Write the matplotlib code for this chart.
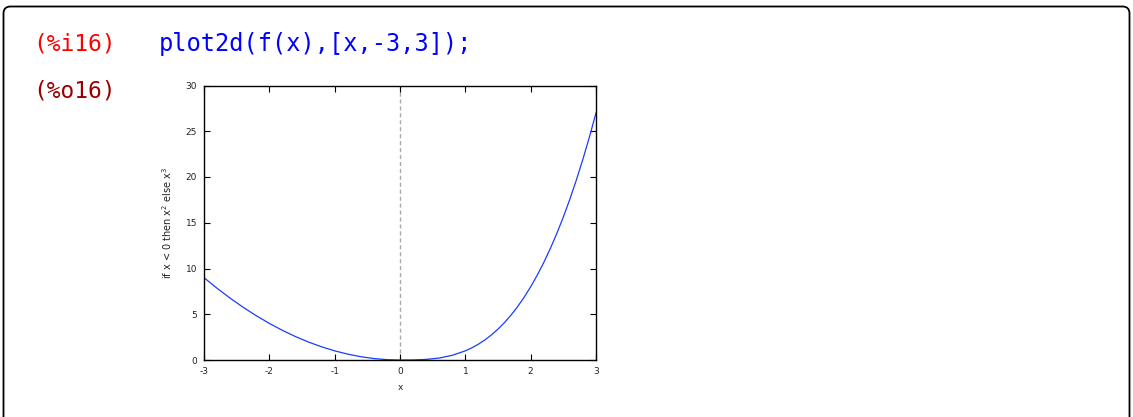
import matplotlib.pyplot as plt
from matplotlib.patches import FancyBboxPatch

plt.rcParams['axes.unicode_minus'] = False

x_vals = [-3.0, -2.8, -2.6, -2.4, -2.2, -2.0, -1.8, -1.6, -1.4, -1.2, -1.0,
          -0.8, -0.6, -0.4, -0.2, 0.0, 0.2, 0.4, 0.6, 0.8, 1.0,
          1.1, 1.2, 1.3, 1.4, 1.5, 1.6, 1.7, 1.8, 1.9, 2.0,
          2.1, 2.2, 2.3, 2.4, 2.5, 2.6, 2.7, 2.8, 2.9, 3.0]
y_vals = [9.0, 7.84, 6.76, 5.76, 4.84, 4.0, 3.24, 2.56, 1.96, 1.44, 1.0,
          0.64, 0.36, 0.16, 0.04, 0.0, 0.008, 0.064, 0.216, 0.512, 1.0,
          1.331, 1.728, 2.197, 2.744, 3.375, 4.096, 4.913, 5.832, 6.859, 8.0,
          9.261, 10.648, 12.167, 13.824, 15.625, 17.576, 19.683, 21.952, 24.389, 27.0]
x_ticks = [-3, -2, -1, 0, 1, 2, 3]
y_ticks = [0, 5, 10, 15, 20, 25, 30]

W, H = 1133, 417
fig = plt.figure(figsize=(W / 100, H / 100), dpi=100)

# background layer in pixel coords for the cell frame and labels
bg = fig.add_axes([0, 0, 1, 1])
bg.set_xlim(0, W)
bg.set_ylim(H, 0)
bg.axis('off')
frame = FancyBboxPatch((3.5, 6.5), 1126, 430, boxstyle="round,pad=0,rounding_size=7",
                       fc='none', ec='black', lw=1.3)
bg.add_patch(frame)
bg.text(33, 44, "(%i16)", color='#ff0000', fontsize=16.5, family='DejaVu Sans Mono',
        va='center', ha='left')
bg.text(159, 44, "plot2d(f(x),[x,-3,3]);", color='#0000ff', fontsize=17,
        family='DejaVu Sans Mono', va='center', ha='left')
bg.text(33, 91, "(%o16)", color='#990000', fontsize=16.5, family='DejaVu Sans Mono',
        va='center', ha='left')

ax = fig.add_axes([204 / W, (H - 360) / H, 392 / W, 274.5 / H])
ax.plot(x_vals, y_vals, color='#1a3cff', lw=0.9)
ax.axvline(0, color='#aaaaaa', lw=1.0, ls=(0, (3, 2)), zorder=0)
ax.set_xlim(-3, 3)
ax.set_ylim(0, 30)
ax.set_xticks(x_ticks)
ax.set_yticks(y_ticks)
ax.tick_params(direction='in', length=4, width=0.8, labelsize=6.5, pad=5,
               top=True, right=True, colors='black')
for lab in ax.get_xticklabels() + ax.get_yticklabels():
    lab.set_color('#222222')
for s in ax.spines.values():
    s.set_linewidth(1.0)
ax.set_xlabel("x", fontsize=6.5, color='#222222', labelpad=5)
ax.set_ylabel(r"if x < 0 then x$^2$ else x$^3$", fontsize=7, color='#222222', labelpad=8)

fig.savefig("out.png", dpi=100)
